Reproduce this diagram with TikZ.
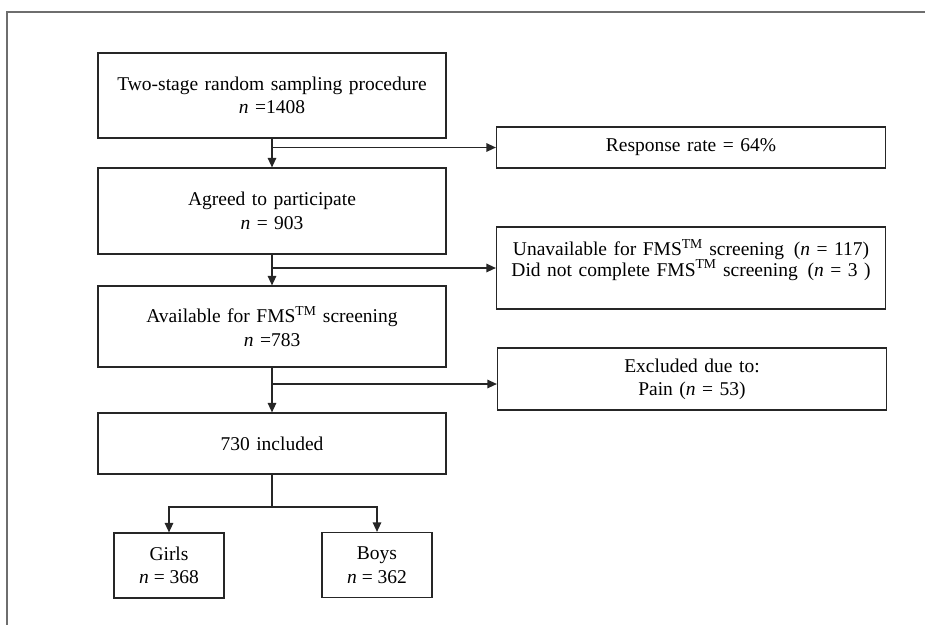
\documentclass[tikz,border=0pt]{standalone}
\usepackage{fontspec}
\setmainfont{Liberation Serif}
\usetikzlibrary{arrows.meta}
\definecolor{framecolor}{HTML}{6e6e6e}
\definecolor{boxstroke}{HTML}{262626}

\begin{document}
\begin{tikzpicture}[x=1pt, y=-1pt, >={Triangle[length=9.5pt,width=8.5pt]},
  every node/.style={align=center},
  flowbox/.style={draw=boxstroke, line width=1.2pt, fill=white,
    inner sep=2pt, font=\fontsize{19.5}{23.4}\selectfont},
  mainbox/.style={flowbox, minimum width=348, text width=340},
  sidebox/.style={flowbox, minimum width=389, text width=380},
  leafbox/.style={flowbox, minimum width=110, minimum height=65},
  flow/.style={draw=boxstroke, line width=1.3pt}]

%%=== COORDINATE PLAN (px, y downwards) ===============================
%%  Page 925 x 625; frame: top edge y=12, left edge x=7
%%  Main column centre x=272, side column centre x=691
%%  Leaves: Girls x=169, Boys x=377, y=565
%%=====================================================================

\useasboundingbox (0,0) rectangle (925,625);

%% --- Frame ------------------------------------------------------------
\draw[framecolor, line width=1.5pt] (925,12) -- (7,12) -- (7,625);

%% --- Main column --------------------------------------------------------
\node[mainbox, minimum height=85] (sampling) at (272,95.5)
  {Two-stage random sampling procedure\\\textit{n} =1408};
\node[mainbox, minimum height=86] (agreed) at (272,211)
  {Agreed to participate\\\textit{n} = 903};
\node[mainbox, minimum height=81] (available) at (272,326.5)
  {Available for FMS\textsuperscript{TM} screening\\\textit{n} =783};
\node[mainbox, minimum height=61] (included) at (272,443.5)
  {730 included};

%% --- Side column --------------------------------------------------------
\node[sidebox, minimum height=41] (response) at (691,147.5)
  {Response rate = 64\%};
\node[sidebox, minimum height=82] (unavail) at (691,268)
  {Unavailable for FMS\textsuperscript{TM} screening\enspace(\textit{n} = 117)\\[-3pt]
   Did not complete FMS\textsuperscript{TM} screening\enspace(\textit{n} = 3 )\\[-3pt]\mbox{}};
\node[sidebox, minimum height=62] (excluded) at (692,379)
  {Excluded due to:\\Pain (\textit{n} = 53)};

%% --- Leaves -------------------------------------------------------------
\node[leafbox] (girls) at (169,565.5) {Girls\\\textit{n} = 368};
\node[leafbox] (boys)  at (377,565)   {Boys\\\textit{n} = 362};

%% --- Connectors ---------------------------------------------------------
\draw[flow, ->] (sampling) -- (agreed);
\draw[flow, ->] (sampling.south |- response.west) -- (response.west);
\draw[flow, ->] (agreed) -- (available);
\draw[flow, ->] (agreed.south |- unavail.west) -- (unavail.west);
\draw[flow, ->] (available) -- (included);
\coordinate (exclfork) at (272,384);
\draw[flow, ->] (exclfork) -- (excluded.west |- exclfork);

%% branch to girls / boys
\coordinate (split) at (272,507);
\draw[flow] (included) -- (split);
\draw[flow, ->] (split) -| (girls.north);
\draw[flow, ->] (split) -| (boys.north);

\end{tikzpicture}
\end{document}
